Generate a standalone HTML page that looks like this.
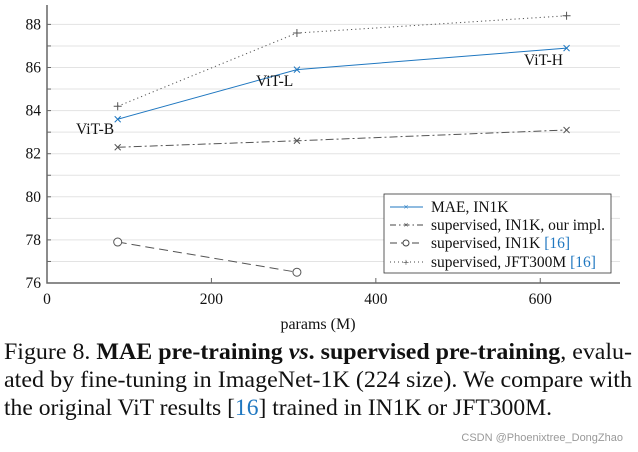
<!DOCTYPE html>
<html><head><meta charset="utf-8"><style>
body{margin:0;background:#fff;}
svg{display:block;font-family:"Liberation Serif",serif;}
</style></head><body>
<svg id="chart" width="638" height="452" viewBox="0 0 638 452" xmlns="http://www.w3.org/2000/svg">
<g id="grid"></g>
<g id="axes"></g>
<g id="series"></g>
<g font-size="15.5" fill="#111">
<text x="76" y="134">ViT-B</text>
<text x="256" y="86">ViT-L</text>
<text x="524" y="65">ViT-H</text>
</g>
<g>
<rect x="384" y="194" width="227" height="79" fill="#fff" stroke="#333" stroke-width="0.8"/>
<g>
<line x1="390" y1="207" x2="423" y2="207" stroke="#1f77c0"/><text x="406" y="210" font-size="9" fill="#1f77c0" text-anchor="middle">×</text>
<text x="431" y="212" font-size="15.5" fill="#111">MAE, IN1K</text></g>
<g>
<line x1="390" y1="225" x2="423" y2="225" stroke="#444" stroke-dasharray="6,3,1.5,3"/><text x="406" y="228" font-size="9" fill="#444" text-anchor="middle">×</text>
<text x="431" y="230" font-size="15.5" fill="#111" textLength="174" lengthAdjust="spacingAndGlyphs">supervised, IN1K, our impl.</text></g>
<g>
<line x1="390" y1="243" x2="423" y2="243" stroke="#444" stroke-dasharray="7,4"/><circle cx="406" cy="243" r="3" fill="#fff" stroke="#444"/>
<text x="431" y="248" font-size="15.5" fill="#111">supervised, IN1K <tspan fill="#1f77c0">[16]</tspan></text></g>
<g>
<line x1="390" y1="262" x2="423" y2="262" stroke="#444" stroke-dasharray="1,3"/><text x="406" y="266" font-size="11" fill="#444" text-anchor="middle">+</text>
<text x="431" y="267" font-size="15.5" fill="#111">supervised, JFT300M <tspan fill="#1f77c0">[16]</tspan></text></g>
</g>
<text x="318" y="329" font-size="16" text-anchor="middle" fill="#111">params (M)</text>
<g font-size="23" fill="#111">
<text x="4" y="359" textLength="628" lengthAdjust="spacingAndGlyphs">Figure 8. <tspan font-weight="bold">MAE pre-training <tspan font-style="italic">vs</tspan>. supervised pre-training</tspan>, evalu-</text>
<text x="4" y="387" textLength="628" lengthAdjust="spacingAndGlyphs">ated by fine-tuning in ImageNet-1K (224 size). We compare with</text>
<text x="4" y="415" textLength="548" lengthAdjust="spacingAndGlyphs">the original ViT results [<tspan fill="#1f77c0">16</tspan>] trained in IN1K or JFT300M.</text>
</g>
<text x="623" y="441" font-size="11" fill="#999" text-anchor="end" font-family="Liberation Sans, sans-serif">CSDN @Phoenixtree_DongZhao</text>
</svg>
<script>
const xVals=[86,304,632];
const maeVals=[83.6,85.9,86.9];
const supOursVals=[82.3,82.6,83.1];
const supIn1kX=[86,304];
const supIn1kVals=[77.9,76.5];
const jftVals=[84.2,87.6,88.4];
const xTicks=[0,200,400,600];
const yTicks=[76,78,80,82,84,86,88];
const NS="http://www.w3.org/2000/svg";
const X0=47,X1=620,XMAX=697,Y0=283,YMIN=76,YMAX=88.9,YTOP=5;
const sx=v=>X0+(v/XMAX)*(X1-X0);
const sy=v=>Y0-(v-YMIN)/(YMAX-YMIN)*(Y0-YTOP);
function mk(tag,attrs,parent){const e=document.createElementNS(NS,tag);for(const k in attrs)e.setAttribute(k,attrs[k]);parent.appendChild(e);return e;}
const grid=document.getElementById('grid'),axes=document.getElementById('axes'),ser=document.getElementById('series');
for(let v=77;v<=88;v++){const l=mk('line',{x1:X0,x2:X1,y1:sy(v),y2:sy(v),stroke:'#e3e3e3','stroke-width':1},grid);

}
for(let v=77;v<=88;v++){mk('line',{x1:X0,x2:X0+4,y1:sy(v),y2:sy(v),stroke:'#666'},axes);}
yTicks.forEach(v=>{const t=mk('text',{x:X0-6,y:sy(v)+5,'font-size':15.5,'text-anchor':'end',fill:'#111'},axes);t.textContent=v;

});
xTicks.forEach(v=>{mk('line',{x1:sx(v),x2:sx(v),y1:Y0,y2:Y0-5,stroke:'#666'},axes);const t=mk('text',{x:sx(v),y:Y0+21,'font-size':15.5,'text-anchor':'middle',fill:'#111'},axes);t.textContent=v;

});
const ax=mk('path',{d:`M${X0} ${YTOP}V${Y0}H${X1}`,fill:'none',stroke:'#666','stroke-width':1.5},axes);


function series(name,xs,ys,color,dash,marker){
  const g=mk('g',{},ser);
  
  
  const pts=xs.map((x,i)=>sx(x)+','+sy(ys[i])).join(' ');
  mk('polyline',{points:pts,fill:'none',stroke:color,'stroke-width':1,'stroke-dasharray':dash},g);
  xs.forEach((x,i)=>{const cx=sx(x),cy=sy(ys[i]);
    if(marker==='x'){mk('path',{d:`M${cx-3} ${cy-3}L${cx+3} ${cy+3}M${cx-3} ${cy+3}L${cx+3} ${cy-3}`,stroke:color,'stroke-width':1},g);}
    else if(marker==='+'){mk('path',{d:`M${cx-4} ${cy}H${cx+4}M${cx} ${cy-4}V${cy+4}`,stroke:color,'stroke-width':1},g);}
    else {mk('circle',{cx,cy,r:4,fill:'#fff',stroke:color},g);}
  });
}
series('series-jft',xVals,jftVals,'#555','1.2,3','+');
series('series-supervised-ours',xVals,supOursVals,'#555','8,3,2,3','x');
series('series-supervised-in1k',supIn1kX,supIn1kVals,'#555','9,5','o');
series('series-mae',xVals,maeVals,'#1f77c0','none','x');
</script>
</body></html>
